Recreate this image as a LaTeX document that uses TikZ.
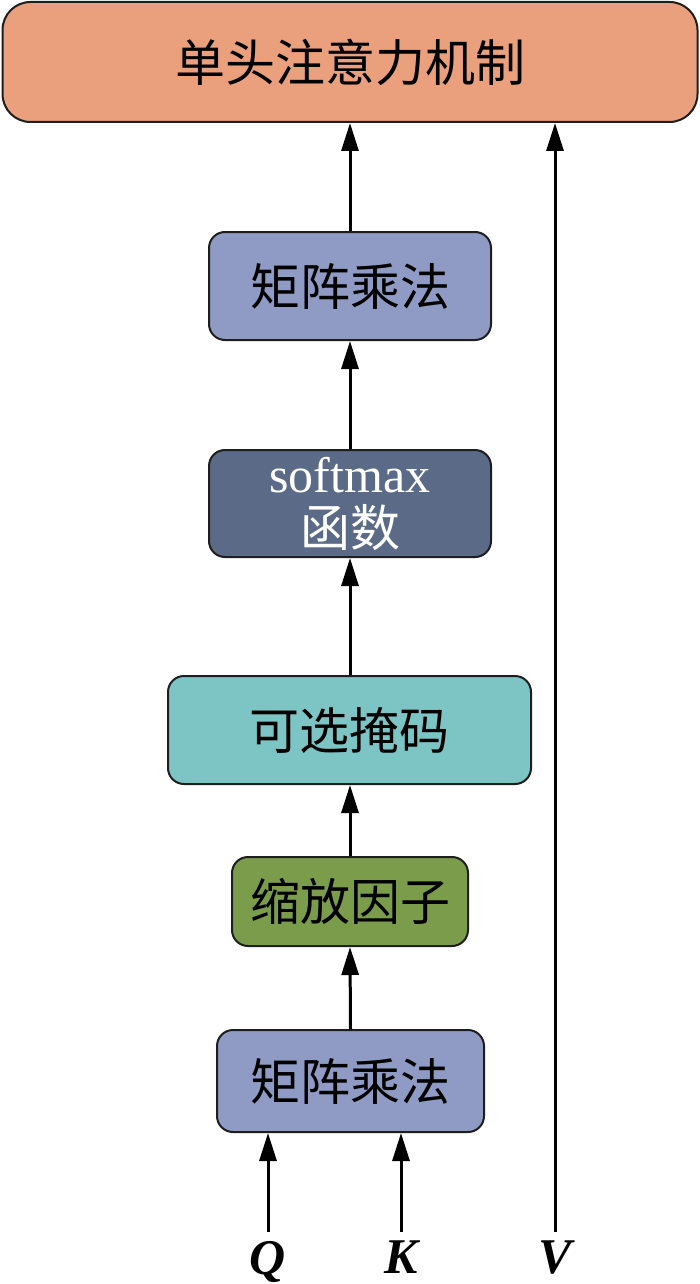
\documentclass[tikz,border=0pt]{standalone}
\usepackage{fontspec}
\setmainfont{Liberation Serif}
\newfontfamily\cjk{Noto Sans CJK SC}
\usetikzlibrary{arrows.meta}
\definecolor{topfill}{HTML}{EBA07D}
\definecolor{lavfill}{HTML}{8F9BC4}
\definecolor{slatefill}{HTML}{5B6A86}
\definecolor{tealfill}{HTML}{7CC5C4}
\definecolor{greenfill}{HTML}{7A9C4B}
\definecolor{edge}{HTML}{1E1E1E}
\begin{document}
\begin{tikzpicture}[x=1pt,y=-1pt,
  blk/.style={draw=edge,line width=2pt,rounded corners=16pt,inner sep=0pt,align=center,
    font=\cjk\fontsize{50}{56}\selectfont},
  conn/.style={line width=3pt,draw=black,-{Triangle[length=28pt,width=17pt]}},
  lbl/.style={font=\fontsize{50}{54}\selectfont\bfseries\itshape,inner sep=1pt,anchor=north}]
\useasboundingbox (0,0) rectangle (700,1284);
\node[blk,fill=topfill,rounded corners=28pt,minimum width=695pt,minimum height=120pt] (top) at (350,62) {单头注意力机制};
\node[blk,fill=lavfill,minimum width=282pt,minimum height=108pt] (mm1) at (350,286) {矩阵乘法};
\node[blk,fill=slatefill,text=white,minimum width=282pt,minimum height=107pt] (sm) at (350,503.5)
  {{\rmfamily\fontsize{50}{50}\selectfont softmax}\\[-2pt]函数};
\node[blk,fill=tealfill,minimum width=363pt,minimum height=108pt] (mask) at (349.5,730) {可选掩码};
\node[blk,fill=greenfill,minimum width=236pt,minimum height=89pt] (scale) at (350,901.5) {缩放因子};
\node[blk,fill=lavfill,minimum width=267pt,minimum height=102pt] (mm2) at (350.5,1081) {矩阵乘法};
\coordinate (Qs) at (268,1232);
\coordinate (Ks) at (401,1232);
\coordinate (Vs) at (555,1232);
\node[lbl] (Q) at (268,1240) {Q};
\node[lbl] (K) at (401,1240) {K};
\node[lbl] (V) at (555,1240) {V};
\draw[conn] (Qs) -- (Qs |- mm2.south);
\draw[conn] (Ks) -- (Ks |- mm2.south);
\draw[conn] (Vs) -- (Vs |- top.south);
\draw[conn] (mm2.north) -- (scale.south);
\draw[conn] (scale.north) -- (mask.south -| scale.north);
\draw[conn] (mask.north -| sm.south) -- (sm.south);
\draw[conn] (sm.north) -- (mm1.south);
\draw[conn] (mm1.north) -- (top.south -| mm1.north);
\end{tikzpicture}
\end{document}
